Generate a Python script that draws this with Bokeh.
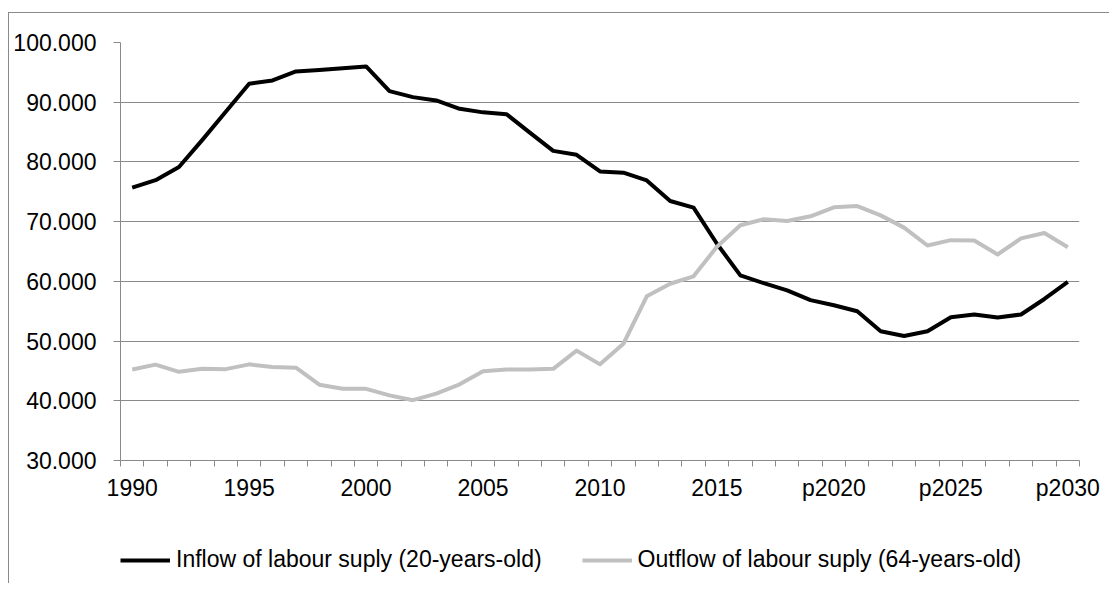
from bokeh.plotting import figure
from bokeh.layouts import column
from bokeh.models import FixedTicker, Legend, LegendItem, Range1d
from bokeh.embed import file_html
from bokeh.resources import INLINE

years = ["1990", "1991", "1992", "1993", "1994", "1995", "1996", "1997", "1998", "1999",
         "2000", "2001", "2002", "2003", "2004", "2005", "2006", "2007", "2008", "2009",
         "2010", "2011", "2012", "2013", "2014", "2015", "p2016", "p2017", "p2018", "p2019",
         "p2020", "p2021", "p2022", "p2023", "p2024", "p2025", "p2026", "p2027", "p2028", "p2029",
         "p2030"]

inflow = [75700, 76950, 79150, 83700, 88400, 93100, 93650, 95150, 95400, 95700,
          96000, 91850, 90850, 90300, 88900, 88300, 88000, 84900, 81850, 81200,
          78400, 78200, 76900, 73450, 72350, 66300, 61000, 59700, 58500, 56850,
          56000, 55000, 51650, 50850, 51650, 54000, 54450, 53950, 54450, 57050,
          59900]

outflow = [45250, 46050, 44850, 45350, 45300, 46100, 45650, 45550, 42700, 42000,
           42000, 40900, 40100, 41200, 42750, 44950, 45250, 45250, 45350, 48400,
           46100, 49550, 57500, 59600, 60850, 65800, 69400, 70400, 70100, 70900,
           72400, 72600, 71050, 69000, 66000, 66900, 66850, 64500, 67200, 68100,
           65700]

y_ticks = [30000, 40000, 50000, 60000, 70000, 80000, 90000, 100000]
y_labels = ["30.000", "40.000", "50.000", "60.000", "70.000", "80.000", "90.000", "100.000"]

series_names = ["Inflow of labour suply (20-years-old)", "Outflow of labour suply (64-years-old)"]
series_colors = ["black", "#c0c0c0"]

FONT = "Liberation Sans"
FS = "23px"
GRID = "#8a8a8a"

x = list(range(len(years)))
n = len(years)

p = figure(frame_width=959, frame_height=418,
           min_border_left=111, min_border_right=30, min_border_top=29, min_border_bottom=45,
           x_range=(-0.5, n - 0.5), y_range=(y_ticks[0], y_ticks[-1]),
           output_backend="svg", toolbar_location=None)
p.outline_line_color = None
p.background_fill_color = "white"
p.border_fill_color = "white"

p.line(x, inflow, line_color=series_colors[0], line_width=4, line_join="round")
p.line(x, outflow, line_color=series_colors[1], line_width=4, line_join="round")

# y axis
p.yaxis.ticker = FixedTicker(ticks=y_ticks)
p.yaxis.major_label_overrides = {t: l for t, l in zip(y_ticks, y_labels)}
p.yaxis.axis_line_color = GRID
p.yaxis.major_tick_line_color = GRID
p.yaxis.major_tick_out = 7
p.yaxis.major_tick_in = 0
p.yaxis.minor_tick_line_color = None
p.yaxis.major_label_standoff = 17
p.yaxis.major_label_text_font = FONT
p.yaxis.major_label_text_font_size = FS
p.yaxis.major_label_text_color = "black"

# x axis: labels every 5 at centers, tick marks at category boundaries
label_idx = list(range(0, n, 5))
p.xaxis.ticker = FixedTicker(ticks=label_idx, minor_ticks=[i - 0.5 for i in range(n + 1)])
p.xaxis.major_label_overrides = {i: years[i] for i in label_idx}
p.xaxis.axis_line_color = GRID
p.xaxis.major_tick_line_color = None
p.xaxis.major_tick_out = 0
p.xaxis.major_tick_in = 0
p.xaxis.minor_tick_line_color = GRID
p.xaxis.minor_tick_out = 6
p.xaxis.minor_tick_in = 0
p.xaxis.major_label_standoff = 8
p.xaxis.major_label_text_font = FONT
p.xaxis.major_label_text_font_size = FS
p.xaxis.major_label_text_color = "black"

p.xgrid.grid_line_color = None
p.ygrid.ticker = FixedTicker(ticks=y_ticks)
p.ygrid.grid_line_color = GRID
p.ygrid.grid_line_width = 1

# legend strip below the chart (single-point lines draw nothing, only carry the style)
pl = figure(width=1100, height=78, min_border=0, x_axis_type=None, y_axis_type=None,
            x_range=Range1d(-0.5, n - 0.5), y_range=Range1d(y_ticks[0], y_ticks[-1]),
            output_backend="svg", toolbar_location=None)
pl.outline_line_color = None
pl.xgrid.grid_line_color = None
pl.ygrid.grid_line_color = None
l1 = pl.line(x[:1], inflow[:1], line_color=series_colors[0], line_width=4)
l2 = pl.line(x[:1], outflow[:1], line_color=series_colors[1], line_width=4)
legend = Legend(items=[LegendItem(label=series_names[0], renderers=[l1]),
                       LegendItem(label=series_names[1], renderers=[l2])],
                orientation="horizontal", location=(0, 10),
                label_text_font=FONT, label_text_font_size=FS, label_text_color="black",
                glyph_width=50, glyph_height=20, label_standoff=6, spacing=40,
                padding=0, margin=0, border_line_color=None, background_fill_alpha=0)
pl.add_layout(legend, "center")

layout = column(p, pl, spacing=0,
                styles={"border-left": "1px solid #8a8a8a", "border-top": "1px solid #8a8a8a",
                        "margin-top": "12px", "margin-left": "8px"})

open("out.html", "w").write(file_html(layout, INLINE))
